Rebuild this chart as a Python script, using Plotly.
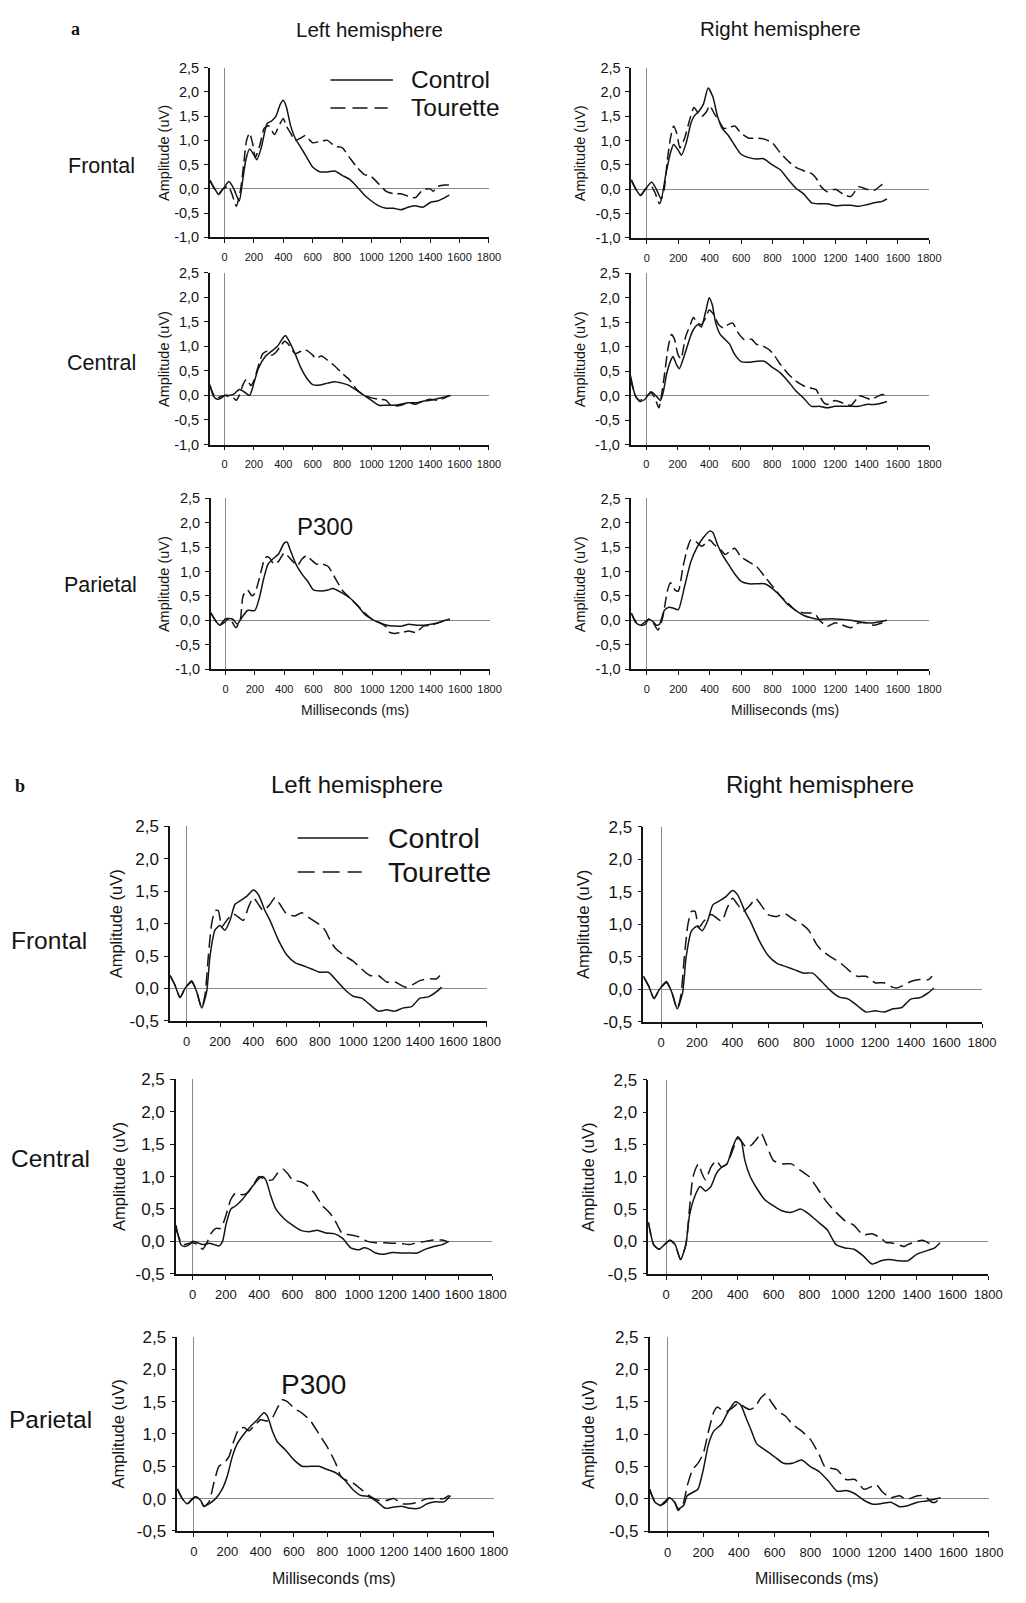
import plotly.graph_objects as go

W, H = 1026, 1603          # browser window
OFF = 8                    # default page margin around the figure
FW, FH = W - 2 * OFF, H - 2 * OFF   # figure size so the page fits the window exactly

# ---------------- tick labels ----------------
TIME_TICKS = [0, 200, 400, 600, 800, 1000, 1200, 1400, 1600, 1800]
TIME_TICK_TEXT = [str(t) for t in TIME_TICKS]
AMP_TICKS_A = [-1.0, -0.5, 0.0, 0.5, 1.0, 1.5, 2.0, 2.5]
AMP_TICK_TEXT_A = ["-1,0", "-0,5", "0,0", "0,5", "1,0", "1,5", "2,0", "2,5"]
AMP_TICKS_B = [-0.5, 0.0, 0.5, 1.0, 1.5, 2.0, 2.5]
AMP_TICK_TEXT_B = ["-0,5", "0,0", "0,5", "1,0", "1,5", "2,0", "2,5"]

ROWS = ["Frontal", "Central", "Parietal"]
COLS = ["Left hemisphere", "Right hemisphere"]
GROUPS = ["Control", "Tourette"]

# ---------------- data: (ms, uV) ----------------
A_FL_CONTROL = [(-100,0.18),(-70,0.02),(-40,-0.12),(-10,0.0),(30,0.15),(60,0.02),(100,-0.25),(120,0.1),(145,0.6),(170,0.82),(200,0.7),(220,0.6),(250,0.85),(290,1.35),(320,1.4),(350,1.5),(380,1.75),(400,1.83),(420,1.7),(450,1.3),(480,1.05),(520,0.85),(560,0.65),(600,0.45),(650,0.35),(700,0.35),(750,0.37),(800,0.28),(850,0.2),(900,0.05),(950,-0.12),(1000,-0.25),(1050,-0.35),(1100,-0.4),(1150,-0.4),(1200,-0.43),(1250,-0.38),(1300,-0.35),(1350,-0.38),(1400,-0.28),(1450,-0.25),(1500,-0.18),(1530,-0.13)]
A_FL_TOURETTE = [(-100,0.18),(-70,0.0),(-40,-0.1),(-10,0.0),(25,0.05),(50,-0.1),(80,-0.36),(110,0.0),(130,0.5),(150,1.0),(170,1.15),(190,0.95),(210,0.65),(240,0.9),(270,1.25),(300,1.3),(340,1.12),(370,1.3),(400,1.45),(420,1.3),(450,1.15),(480,1.0),(520,1.05),(550,1.1),(600,0.95),(650,0.98),(700,1.0),(750,0.88),(800,0.85),(850,0.65),(900,0.45),(950,0.3),(1000,0.25),(1050,0.1),(1100,-0.05),(1150,-0.1),(1200,-0.1),(1250,-0.15),(1300,-0.18),(1350,-0.02),(1400,0.0),(1420,-0.05),(1450,0.05),(1500,0.08),(1540,0.08)]

A_FR_CONTROL = [(-100,0.2),(-70,0.0),(-40,-0.13),(-10,0.0),(30,0.15),(60,0.0),(90,-0.2),(120,0.3),(150,0.75),(170,0.92),(200,0.8),(220,0.7),(250,0.95),(280,1.35),(300,1.5),(330,1.6),(360,1.75),(390,2.08),(420,1.9),(450,1.5),(480,1.25),(520,1.1),(560,0.9),(600,0.72),(650,0.65),(700,0.62),(740,0.63),(800,0.5),(850,0.4),(900,0.2),(950,0.02),(1000,-0.1),(1050,-0.28),(1100,-0.3),(1150,-0.3),(1200,-0.34),(1250,-0.33),(1300,-0.33),(1350,-0.35),(1400,-0.32),(1450,-0.28),(1500,-0.25),(1530,-0.2)]
A_FR_TOURETTE = [(-100,0.18),(-70,0.0),(-40,-0.12),(-10,0.0),(30,0.05),(55,-0.1),(80,-0.3),(110,0.0),(130,0.6),(150,1.05),(170,1.3),(190,1.15),(210,0.85),(240,1.05),(270,1.4),(300,1.68),(330,1.55),(350,1.5),(380,1.6),(400,1.72),(430,1.55),(460,1.4),(490,1.25),(530,1.28),(560,1.3),(600,1.15),(650,1.05),(700,1.05),(750,1.03),(800,0.95),(850,0.75),(900,0.58),(950,0.45),(1000,0.38),(1050,0.32),(1080,0.22),(1110,0.05),(1150,-0.05),(1200,0.0),(1250,-0.1),(1300,-0.15),(1350,0.05),(1400,0.0),(1450,-0.02),(1500,0.1),(1520,0.12)]

A_CL_CONTROL = [(-100,0.22),(-75,-0.02),(-50,-0.08),(-20,-0.05),(0,0.0),(30,0.0),(60,0.02),(100,0.12),(130,0.08),(170,0.0),(200,0.25),(230,0.55),(280,0.8),(320,0.9),(360,1.0),(400,1.18),(415,1.22),(440,1.1),(480,0.85),(520,0.56),(560,0.35),(600,0.22),(650,0.21),(700,0.25),(750,0.28),(800,0.25),(850,0.2),(900,0.1),(950,0.0),(1000,-0.1),(1050,-0.2),(1100,-0.2),(1150,-0.2),(1200,-0.18),(1250,-0.15),(1300,-0.15),(1350,-0.12),(1400,-0.1),(1450,-0.07),(1500,-0.03),(1540,0.0)]
A_CL_TOURETTE = [(-100,0.2),(-60,-0.05),(0,0.0),(30,-0.02),(60,-0.05),(80,-0.1),(100,0.0),(130,0.25),(150,0.33),(180,0.2),(200,0.3),(230,0.6),(260,0.85),(290,0.9),(320,0.82),(350,0.88),(380,1.0),(410,1.1),(440,1.02),(480,0.85),(520,0.9),(550,0.93),(600,0.82),(620,0.75),(660,0.8),(700,0.72),(750,0.6),(800,0.45),(850,0.32),(900,0.12),(950,0.0),(1000,-0.05),(1050,-0.08),(1100,-0.1),(1130,-0.2),(1150,-0.22),(1200,-0.2),(1250,-0.15),(1300,-0.18),(1350,-0.12),(1400,-0.08),(1450,-0.1),(1500,-0.05),(1530,0.0)]

A_CR_CONTROL = [(-100,0.4),(-70,0.0),(-40,-0.12),(-10,-0.08),(30,0.08),(60,0.0),(90,-0.1),(110,0.1),(130,0.45),(160,0.75),(170,0.8),(190,0.65),(210,0.55),(240,0.8),(280,1.2),(300,1.35),(330,1.45),(350,1.4),(380,1.75),(400,2.0),(420,1.85),(440,1.5),(470,1.25),(500,1.15),(530,1.05),(560,0.85),(600,0.7),(650,0.68),(700,0.7),(750,0.7),(800,0.58),(850,0.47),(900,0.3),(950,0.1),(1000,-0.05),(1050,-0.22),(1100,-0.22),(1150,-0.25),(1200,-0.22),(1250,-0.22),(1300,-0.22),(1350,-0.22),(1400,-0.18),(1450,-0.18),(1500,-0.15),(1530,-0.12)]
A_CR_TOURETTE = [(-100,0.35),(-70,0.0),(-40,-0.1),(30,0.05),(55,-0.05),(80,-0.25),(110,0.3),(140,1.0),(160,1.25),(180,1.15),(200,0.85),(220,0.75),(250,1.2),(280,1.45),(300,1.6),(320,1.5),(350,1.45),(380,1.6),(400,1.75),(430,1.65),(460,1.45),(490,1.38),(520,1.45),(550,1.48),(580,1.3),(620,1.15),(670,1.15),(700,1.05),(750,1.0),(800,0.88),(850,0.65),(900,0.45),(950,0.3),(1000,0.2),(1050,0.15),(1080,0.12),(1100,0.0),(1130,-0.15),(1150,-0.18),(1200,-0.1),(1250,-0.15),(1300,-0.2),(1330,-0.1),(1350,0.0),(1400,-0.05),(1430,-0.08),(1450,-0.05),(1500,0.02),(1530,0.0)]

A_PL_CONTROL = [(-100,0.15),(-70,0.0),(-40,-0.1),(-10,-0.05),(20,0.03),(50,0.02),(80,-0.08),(110,0.05),(150,0.2),(200,0.2),(230,0.45),(260,0.85),(290,1.15),(320,1.25),(360,1.35),(400,1.58),(420,1.6),(440,1.45),(480,1.15),(520,0.95),(560,0.8),(600,0.62),(650,0.6),(700,0.62),(730,0.65),(800,0.55),(850,0.45),(900,0.3),(950,0.12),(1000,0.02),(1050,-0.05),(1100,-0.1),(1150,-0.12),(1200,-0.12),(1250,-0.08),(1300,-0.1),(1350,-0.1),(1400,-0.08),(1450,-0.05),(1500,0.0),(1530,0.02)]
A_PL_TOURETTE = [(-100,0.15),(-70,0.0),(-40,-0.1),(0,0.03),(30,0.03),(70,-0.15),(100,0.0),(120,0.5),(150,0.62),(180,0.5),(200,0.55),(230,0.85),(260,1.2),(280,1.3),(300,1.28),(330,1.15),(360,1.2),(400,1.38),(430,1.3),(460,1.2),(490,1.12),(520,1.25),(550,1.32),(580,1.25),(620,1.15),(660,1.15),(700,1.1),(750,0.85),(800,0.6),(850,0.45),(900,0.3),(950,0.15),(1000,0.02),(1050,-0.05),(1100,-0.15),(1120,-0.25),(1150,-0.27),(1200,-0.25),(1250,-0.22),(1300,-0.25),(1350,-0.12),(1400,-0.1),(1450,-0.05),(1500,0.0),(1530,0.02)]

A_PR_CONTROL = [(-100,0.15),(-70,-0.05),(-40,-0.1),(-10,-0.08),(10,0.03),(40,-0.03),(60,-0.1),(80,-0.08),(110,0.2),(140,0.27),(170,0.25),(200,0.22),(240,0.7),(280,1.2),(320,1.5),(360,1.7),(400,1.83),(420,1.8),(450,1.55),(480,1.35),(520,1.15),(560,0.95),(600,0.8),(650,0.75),(700,0.75),(750,0.75),(800,0.65),(850,0.5),(900,0.32),(950,0.2),(1000,0.1),(1050,0.05),(1100,0.02),(1150,0.03),(1200,0.03),(1250,0.02),(1300,0.0),(1350,-0.03),(1400,-0.05),(1450,-0.05),(1500,-0.02),(1530,0.0)]
A_PR_TOURETTE = [(-100,0.15),(-70,-0.03),(-40,-0.1),(10,0.02),(40,-0.05),(70,-0.2),(100,0.05),(130,0.6),(150,0.77),(180,0.62),(200,0.6),(230,1.1),(260,1.5),(280,1.65),(310,1.62),(350,1.52),(380,1.6),(400,1.65),(430,1.55),(470,1.45),(500,1.35),(530,1.42),(560,1.48),(600,1.3),(650,1.2),(700,1.1),(750,0.9),(800,0.7),(850,0.5),(900,0.35),(950,0.2),(1000,0.15),(1050,0.15),(1080,0.1),(1100,0.0),(1150,-0.12),(1200,-0.05),(1250,-0.1),(1300,-0.15),(1350,-0.05),(1400,-0.05),(1450,-0.1),(1500,-0.05),(1530,0.0)]

B_FL_CONTROL = [(-100,0.2),(-70,0.05),(-40,-0.14),(-10,0.0),(30,0.12),(60,-0.05),(90,-0.3),(120,-0.05),(140,0.5),(170,0.9),(200,0.97),(230,0.9),(260,1.05),(290,1.3),(320,1.35),(360,1.42),(400,1.52),(430,1.45),(470,1.2),(500,1.05),(550,0.75),(600,0.52),(650,0.4),(700,0.35),(750,0.3),(800,0.25),(850,0.25),(900,0.12),(950,-0.02),(1000,-0.12),(1050,-0.15),(1100,-0.25),(1150,-0.35),(1200,-0.33),(1250,-0.35),(1300,-0.3),(1350,-0.28),(1400,-0.15),(1450,-0.13),(1500,-0.05),(1530,0.02)]
B_FL_TOURETTE = [(-100,0.2),(-70,0.05),(-40,-0.14),(-10,0.0),(30,0.1),(60,-0.05),(90,-0.3),(110,-0.1),(130,0.5),(150,1.0),(170,1.2),(190,1.2),(210,0.95),(240,1.05),(280,1.15),(310,1.1),(340,1.05),(370,1.25),(400,1.4),(430,1.3),(460,1.2),(500,1.3),(530,1.4),(560,1.3),(600,1.15),(650,1.12),(690,1.17),(730,1.1),(800,0.98),(830,0.9),(870,0.7),(900,0.6),(950,0.5),(1000,0.42),(1050,0.3),(1100,0.2),(1150,0.2),(1200,0.1),(1250,0.1),(1300,0.03),(1320,0.02),(1350,0.05),(1400,0.12),(1450,0.15),(1500,0.15),(1520,0.2)]

B_FR_CONTROL = [(-100,0.2),(-70,0.05),(-40,-0.14),(-10,0.0),(30,0.12),(60,-0.05),(90,-0.3),(120,-0.05),(140,0.5),(170,0.9),(200,0.97),(230,0.9),(260,1.05),(290,1.3),(320,1.35),(360,1.42),(400,1.52),(430,1.45),(470,1.2),(500,1.05),(550,0.75),(600,0.52),(650,0.4),(700,0.35),(750,0.3),(800,0.25),(850,0.25),(900,0.12),(950,-0.02),(1000,-0.12),(1050,-0.15),(1100,-0.25),(1150,-0.35),(1200,-0.33),(1250,-0.35),(1300,-0.3),(1350,-0.28),(1400,-0.15),(1450,-0.13),(1500,-0.05),(1530,0.02)]
B_FR_TOURETTE = [(-100,0.2),(-70,0.05),(-40,-0.14),(-10,0.0),(30,0.1),(60,-0.05),(90,-0.3),(110,-0.1),(130,0.5),(150,1.0),(170,1.2),(190,1.2),(210,0.95),(240,1.05),(280,1.15),(310,1.1),(340,1.05),(370,1.25),(400,1.4),(430,1.3),(460,1.2),(500,1.3),(530,1.4),(560,1.3),(600,1.15),(650,1.12),(690,1.17),(730,1.1),(800,0.98),(830,0.9),(870,0.7),(900,0.6),(950,0.5),(1000,0.42),(1050,0.3),(1100,0.2),(1150,0.2),(1200,0.1),(1250,0.1),(1300,0.03),(1320,0.02),(1350,0.05),(1400,0.12),(1450,0.15),(1500,0.15),(1520,0.2)]

B_CL_CONTROL = [(-100,0.25),(-70,-0.05),(-50,-0.08),(-20,-0.05),(0,0.0),(30,-0.02),(60,-0.05),(100,-0.03),(130,-0.05),(160,-0.07),(180,0.0),(200,0.25),(230,0.5),(260,0.55),(300,0.65),(330,0.75),(360,0.85),(400,0.97),(420,1.0),(440,0.95),(470,0.7),(500,0.5),(550,0.35),(600,0.25),(650,0.17),(700,0.15),(750,0.17),(800,0.13),(850,0.12),(900,0.05),(950,-0.1),(1000,-0.13),(1030,-0.1),(1060,-0.12),(1100,-0.18),(1150,-0.2),(1200,-0.17),(1250,-0.18),(1300,-0.18),(1350,-0.18),(1400,-0.12),(1450,-0.08),(1500,-0.05),(1540,0.0)]
B_CL_TOURETTE = [(-100,0.2),(-60,-0.05),(0,-0.02),(30,-0.05),(60,-0.12),(90,0.0),(110,0.12),(140,0.2),(170,0.2),(200,0.4),(230,0.65),(260,0.75),(300,0.72),(330,0.75),(360,0.85),(400,1.0),(440,0.95),(480,0.95),(510,1.05),(540,1.12),(570,1.05),(600,0.95),(650,0.92),(680,0.88),(730,0.75),(780,0.55),(820,0.45),(850,0.35),(880,0.2),(900,0.12),(950,0.1),(1000,0.07),(1050,0.0),(1100,-0.02),(1150,-0.02),(1200,-0.03),(1250,-0.03),(1300,-0.05),(1350,-0.02),(1400,0.0),(1450,0.02),(1500,0.02),(1530,0.0)]

B_CR_CONTROL = [(-100,0.3),(-70,-0.05),(-40,-0.12),(-10,-0.05),(20,0.02),(50,-0.05),(80,-0.28),(110,-0.05),(130,0.4),(160,0.7),(190,0.85),(220,0.78),(250,0.85),(280,1.05),(310,1.15),(340,1.2),(370,1.45),(400,1.62),(420,1.55),(440,1.25),(470,1.0),(500,0.85),(550,0.65),(600,0.55),(650,0.47),(700,0.45),(750,0.5),(800,0.42),(850,0.3),(900,0.18),(950,-0.05),(1000,-0.1),(1050,-0.12),(1100,-0.22),(1150,-0.35),(1200,-0.3),(1250,-0.28),(1300,-0.3),(1350,-0.3),(1400,-0.2),(1450,-0.15),(1500,-0.1),(1530,-0.02)]
B_CR_TOURETTE = [(-100,0.3),(-70,-0.05),(-40,-0.12),(-10,-0.05),(20,0.02),(50,-0.05),(80,-0.28),(110,-0.05),(130,0.5),(150,1.0),(180,1.2),(200,1.05),(220,0.95),(250,1.15),(280,1.25),(310,1.15),(340,1.2),(370,1.4),(400,1.6),(420,1.55),(450,1.45),(480,1.5),(510,1.6),(530,1.68),(560,1.5),(600,1.25),(650,1.2),(700,1.2),(750,1.1),(800,1.0),(850,0.8),(900,0.6),(950,0.45),(1000,0.32),(1050,0.25),(1100,0.1),(1150,0.12),(1200,0.05),(1230,-0.02),(1250,-0.02),(1300,-0.05),(1330,-0.08),(1350,-0.05),(1400,0.0),(1430,0.02),(1450,0.0),(1480,-0.05)]

B_PL_CONTROL = [(-100,0.15),(-70,0.0),(-40,-0.08),(-10,0.0),(10,0.03),(40,-0.03),(60,-0.12),(90,-0.08),(130,0.0),(170,0.15),(200,0.35),(230,0.65),(260,0.85),(300,1.0),(340,1.12),(380,1.22),(420,1.33),(440,1.28),(470,1.05),(500,0.88),(550,0.75),(600,0.6),(650,0.5),(700,0.5),(750,0.5),(800,0.45),(850,0.4),(900,0.3),(950,0.15),(1000,0.05),(1050,0.03),(1100,-0.05),(1150,-0.15),(1200,-0.13),(1250,-0.12),(1300,-0.15),(1350,-0.15),(1400,-0.08),(1450,-0.05),(1500,-0.05),(1540,0.05)]
B_PL_TOURETTE = [(-100,0.15),(-70,0.0),(-40,-0.08),(10,0.03),(40,-0.03),(60,-0.12),(90,-0.05),(120,0.25),(150,0.5),(180,0.55),(210,0.65),(240,0.9),(270,1.08),(300,1.1),(330,1.05),(360,1.12),(400,1.22),(440,1.2),(470,1.25),(500,1.4),(530,1.53),(560,1.5),(600,1.4),(650,1.32),(700,1.2),(750,1.0),(800,0.8),(850,0.55),(880,0.35),(900,0.3),(950,0.25),(1000,0.15),(1050,0.05),(1100,-0.02),(1150,-0.03),(1200,0.0),(1250,-0.08),(1300,-0.08),(1350,-0.05),(1400,0.0),(1450,0.0),(1500,0.0),(1530,0.05)]

B_PR_CONTROL = [(-100,0.15),(-70,-0.05),(-40,-0.1),(-10,-0.05),(10,0.02),(40,-0.05),(60,-0.15),(90,-0.1),(110,0.05),(140,0.1),(170,0.15),(200,0.45),(230,0.85),(260,1.05),(300,1.15),(340,1.35),(380,1.5),(410,1.45),(440,1.25),(470,1.05),(500,0.85),(550,0.75),(600,0.65),(650,0.55),(700,0.55),(750,0.6),(800,0.5),(850,0.42),(900,0.28),(950,0.12),(1000,0.13),(1050,0.08),(1100,-0.02),(1150,-0.08),(1200,-0.07),(1250,-0.05),(1300,-0.12),(1350,-0.1),(1400,-0.05),(1450,-0.03),(1500,0.0),(1530,0.02)]
B_PR_TOURETTE = [(-100,0.15),(-70,-0.05),(-40,-0.1),(10,0.02),(40,-0.05),(60,-0.18),(90,-0.05),(110,0.2),(140,0.45),(170,0.55),(200,0.7),(230,1.05),(260,1.35),(280,1.42),(300,1.38),(330,1.35),(360,1.4),(400,1.48),(430,1.42),(460,1.38),(490,1.42),(520,1.55),(550,1.62),(580,1.5),(620,1.35),(660,1.28),(700,1.15),(750,1.05),(800,0.92),(850,0.68),(880,0.5),(900,0.48),(950,0.45),(1000,0.3),(1050,0.3),(1100,0.15),(1150,0.2),(1170,0.22),(1200,0.12),(1230,0.05),(1250,0.02),(1300,0.05),(1330,0.0),(1350,0.0),(1400,0.05),(1430,0.05),(1450,0.02),(1480,-0.05),(1500,-0.05),(1530,0.02)]

# ---------------- layout geometry (window pixels: left, right, top, bottom) ----------------
PANELS = [
    ("a", 0, 0, A_FL_CONTROL, A_FL_TOURETTE, (212.7, 495.7, 59.3, 231.0)),
    ("a", 0, 1, A_FR_CONTROL, A_FR_TOURETTE, (640.0, 942.3, 59.3, 231.5)),
    ("a", 1, 0, A_CL_CONTROL, A_CL_TOURETTE, (212.7, 495.7, 266.7, 440.7)),
    ("a", 1, 1, A_CR_CONTROL, A_CR_TOURETTE, (639.3, 942.3, 267.3, 440.7)),
    ("a", 2, 0, A_PL_CONTROL, A_PL_TOURETTE, (213.7, 496.3, 495.0, 668.0)),
    ("a", 2, 1, A_PR_CONTROL, A_PR_TOURETTE, (640.0, 942.3, 495.3, 668.0)),
    ("b", 0, 0, B_FL_CONTROL, B_FL_TOURETTE, (172.3, 493.3, 827.3, 1024.0)),
    ("b", 0, 1, B_FR_CONTROL, B_FR_TOURETTE, (652.3, 995.7, 827.7, 1025.0)),
    ("b", 1, 0, B_CL_CONTROL, B_CL_TOURETTE, (178.3, 499.0, 1083.3, 1280.0)),
    ("b", 1, 1, B_CR_CONTROL, B_CR_TOURETTE, (657.3, 1002.0, 1083.7, 1280.0)),
    ("b", 2, 0, B_PL_CONTROL, B_PL_TOURETTE, (179.7, 500.7, 1344.0, 1540.3)),
    ("b", 2, 1, B_PR_CONTROL, B_PR_TOURETTE, (658.7, 1002.7, 1344.0, 1540.7)),
]

FONT = "Liberation Sans, Arial, Helvetica, sans-serif"
SERIF = "Liberation Serif, Times New Roman, serif"
INK = "#141414"

STYLE = {
    "a": dict(ytick=14.5, xtick=11, ytitle=14.5, xtitle=14, dash="11px,5px", yr=[-1.0, 2.5],
              yt=AMP_TICKS_A, ytt=AMP_TICK_TEXT_A, xstand=5),
    "b": dict(ytick=17, xtick=13, ytitle=16.5, xtitle=16, dash="13px,6px", yr=[-0.5, 2.5],
              yt=AMP_TICKS_B, ytt=AMP_TICK_TEXT_B, xstand=4),
}

def px(x):
    return (x - OFF) / FW

def py(y):
    return 1 - (y - OFF) / FH

fig = go.Figure()
layout = {}
annotations = []
shapes = []

for i, (sec, row, col, ctrl, tour, box) in enumerate(PANELS):
    n = i + 1
    st = STYLE[sec]
    l, r, t, b = box
    xa = "x" if n == 1 else f"x{n}"
    ya = "y" if n == 1 else f"y{n}"
    for series, dash in ((ctrl, "solid"), (tour, st["dash"])):
        fig.add_trace(go.Scatter(
            x=[p[0] for p in series], y=[p[1] for p in series],
            mode="lines", xaxis=xa, yaxis=ya, showlegend=False, hoverinfo="skip",
            line=dict(color=INK, width=1.5, dash=dash, shape="spline", smoothing=0.6),
        ))
    layout["xaxis" if n == 1 else f"xaxis{n}"] = dict(
        domain=[px(l), px(r)], anchor=ya, range=[-100, 1800],
        tickvals=TIME_TICKS, ticktext=TIME_TICK_TEXT, ticks="outside", ticklen=4,
        tickwidth=1, tickcolor=INK, showline=True, linecolor=INK, linewidth=1.5,
        showgrid=False, zeroline=True, zerolinecolor="#8a8a8a", zerolinewidth=1,
        tickfont=dict(family=FONT, size=st["xtick"], color=INK), ticklabelstandoff=st["xstand"],
        fixedrange=True,
    )
    layout["yaxis" if n == 1 else f"yaxis{n}"] = dict(
        domain=[py(b), py(t)], anchor=xa, range=st["yr"],
        tickvals=st["yt"], ticktext=st["ytt"], ticks="outside", ticklen=4,
        tickwidth=1, tickcolor=INK, showline=True, linecolor=INK, linewidth=1.5,
        showgrid=False, zeroline=True, zerolinecolor="#8a8a8a", zerolinewidth=1,
        tickfont=dict(family=FONT, size=st["ytick"], color=INK), ticklabelstandoff=2,
        fixedrange=True,
    )
    ytitle_x = {("a", 0): 165.6, ("a", 1): 587.5, ("b", 0): 120.0, ("b", 1): 596.0}[(sec, col)]
    if sec == "b" and row == 0:
        ytitle_x = 117.2 if col == 0 else 591.7
    annotations.append(dict(
        x=px(ytitle_x), y=py((t + b) / 2), xref="paper", yref="paper",
        text="Amplitude (uV)", textangle=-90, showarrow=False,
        font=dict(family=FONT, size=st["ytitle"], color=INK),
        xanchor="center", yanchor="middle",
    ))
    if row == 2:
        xt_y = 709 if sec == "a" else 1588
        annotations.append(dict(
            x=px((l + r) / 2 + (5 if sec == "a" else -2)), y=py(xt_y), xref="paper", yref="paper",
            text="Milliseconds (ms)", showarrow=False,
            font=dict(family=FONT, size=st["xtitle"], color=INK),
            xanchor="center", yanchor="middle",
        ))

# column titles
for (xc, yc, txt, size) in [(375, 21, COLS[0], 20.5), (791.7, 20, COLS[1], 20.5),
                            (361.7, 785, COLS[0], 24), (831.7, 785, COLS[1], 24)]:
    annotations.append(dict(x=px(xc), y=py(yc), xref="paper", yref="paper", text=txt,
                            showarrow=False, font=dict(family=FONT, size=size, color=INK),
                            xanchor="center", yanchor="middle"))

# row labels
for (xc, yc, txt, size) in [(102.7, 158.3, ROWS[0], 21.5), (103, 358.3, ROWS[1], 21.5),
                            (101.7, 583.3, ROWS[2], 21.5),
                            (50, 942.7, ROWS[0], 24.5), (51, 1163.3, ROWS[1], 24.5),
                            (51, 1427.3, ROWS[2], 24.5)]:
    annotations.append(dict(x=px(xc), y=py(yc), xref="paper", yref="paper", text=txt,
                            showarrow=False, font=dict(family=FONT, size=size, color=INK),
                            xanchor="center", yanchor="middle"))

# section letters
for (xc, yc, txt) in [(76, 20, "a"), (20, 786.7, "b")]:
    annotations.append(dict(x=px(xc), y=py(yc), xref="paper", yref="paper",
                            text=f"<b>{txt}</b>", showarrow=False,
                            font=dict(family=SERIF, size=18, color=INK),
                            xanchor="center", yanchor="middle"))

# P300 labels
for (xc, yc, size) in [(329, 523.3, 24), (317.5, 1391.7, 28)]:
    annotations.append(dict(x=px(xc), y=py(yc), xref="paper", yref="paper", text="P300",
                            showarrow=False, font=dict(family=FONT, size=size, color=INK),
                            xanchor="center", yanchor="middle"))

# legends (key lines plus labels)
LEGENDS = [
    dict(x0=335, x1c=398.3, x1d=393, yc=71.7, yd=100, tx=415, size=24.5, dash="15px,7px"),
    dict(x0=301.7, x1c=373.3, x1d=366.7, yc=839, yd=873.3, tx=391.7, size=28.5, dash="17px,8px"),
]
for lg in LEGENDS:
    shapes.append(dict(type="line", xref="paper", yref="paper",
                       x0=px(lg["x0"]), x1=px(lg["x1c"]), y0=py(lg["yc"]), y1=py(lg["yc"]),
                       line=dict(color=INK, width=1.5)))
    shapes.append(dict(type="line", xref="paper", yref="paper",
                       x0=px(lg["x0"]), x1=px(lg["x1d"]), y0=py(lg["yd"]), y1=py(lg["yd"]),
                       line=dict(color=INK, width=1.5, dash=lg["dash"])))
    for txt, yy in ((GROUPS[0], lg["yc"]), (GROUPS[1], lg["yd"])):
        annotations.append(dict(x=px(lg["tx"]), y=py(yy), xref="paper", yref="paper",
                                text=txt, showarrow=False,
                                font=dict(family=FONT, size=lg["size"], color=INK),
                                xanchor="left", yanchor="middle"))

fig.update_layout(
    width=FW, height=FH, autosize=False,
    margin=dict(l=0, r=0, t=0, b=0, pad=0),
    paper_bgcolor="white", plot_bgcolor="white",
    font=dict(family=FONT, color=INK),
    annotations=annotations, shapes=shapes, showlegend=False,
    **layout,
)

fig.write_html("out.html", config={"displayModeBar": False})
